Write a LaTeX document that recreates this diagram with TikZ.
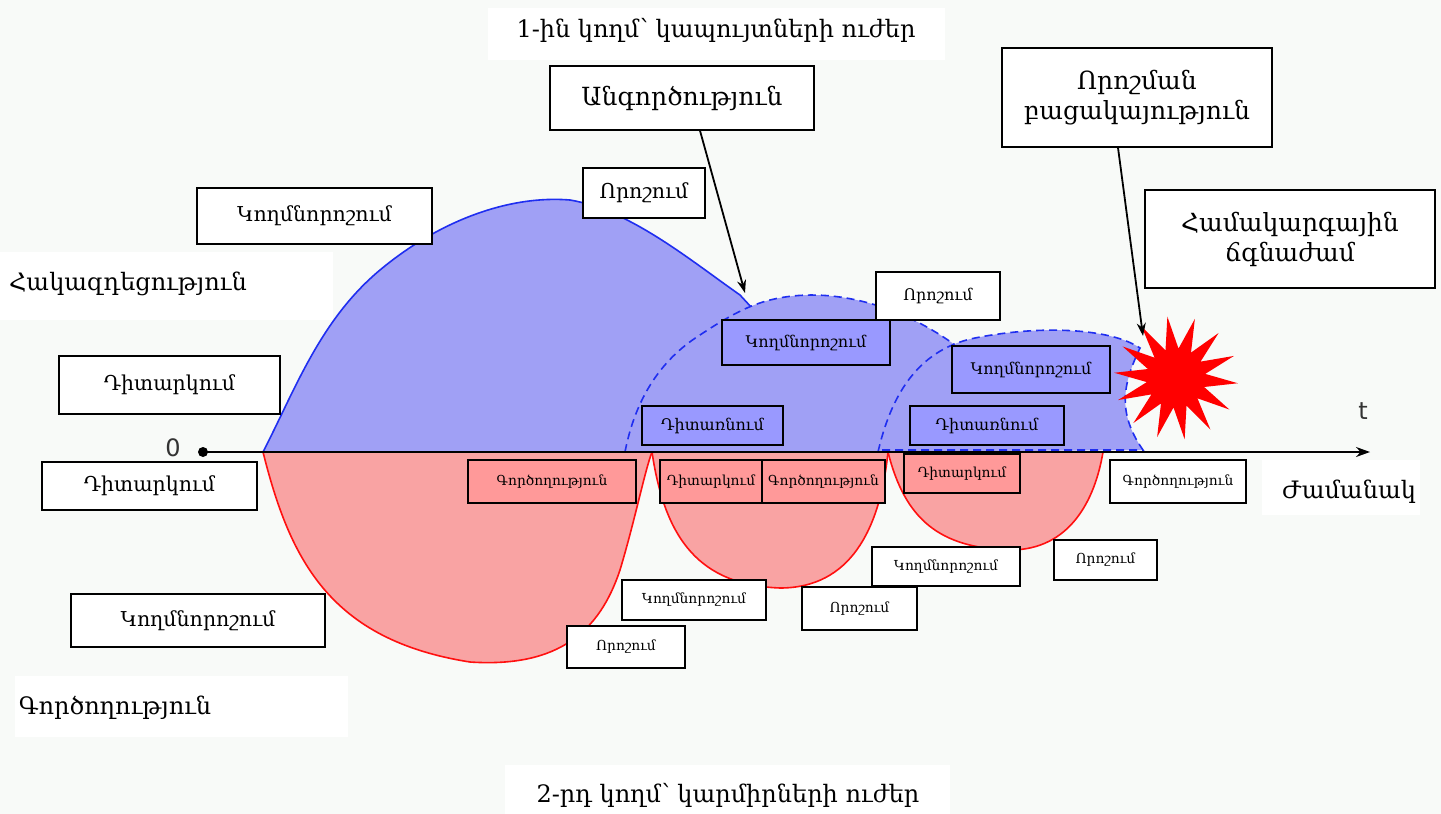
\documentclass[tikz,border=0pt]{standalone}
\usepackage{fontspec}
\setmainfont{DejaVu Serif}
\newfontfamily\sansf{DejaVu Sans}
\usetikzlibrary{arrows.meta,shapes.geometric}
\definecolor{bg}{HTML}{F8FAF8}
\definecolor{bluefill}{HTML}{A0A0F5}
\definecolor{bluebox}{HTML}{9999FF}
\definecolor{redfill}{HTML}{F9A3A3}
\definecolor{redbox}{HTML}{FF9999}
\definecolor{blueline}{HTML}{1F2EF0}
\definecolor{redline}{HTML}{FF1010}
\tikzset{
 box/.style={draw=black, line width=1.3pt, fill=white, inner sep=0pt, align=center},
 bbox/.style={box, fill=bluebox},
 rbox/.style={box, fill=redbox},
 freef/.style={font=\fontsize{24}{29}\selectfont},
 bigf/.style={font=\fontsize{25}{30}\selectfont},
 medf/.style={font=\fontsize{20.5}{24}\selectfont},
 smallf/.style={font=\fontsize{16}{19}\selectfont},
 tinyf/.style={font=\fontsize{13.8}{16}\selectfont},
 sz/.style 2 args={minimum width=#1, minimum height=#2},
 conn/.style={line width=1.8pt, -{Stealth[length=13pt,width=9pt]}},
}
\begin{document}
\begin{tikzpicture}[x=1pt,y=-1pt]
\fill[bg] (0,0) rectangle (1441,814);
\useasboundingbox (0,0) rectangle (1441,814);
% white patches behind labels
\fill[white] (488,8) rectangle (945,60);
\fill[white] (0,252) rectangle (333,320);
\fill[white] (15,676) rectangle (348,737);
\fill[white] (505,765) rectangle (950,814);
\fill[white] (1262,460) rectangle (1420,515);
% blue areas
\fill[bluefill] (263,452) .. controls (295,390) and (320,320) .. (380,270) .. controls (440,220) and (510,195) .. (570,200) .. controls (630,210) and (690,260) .. (740,295) -- (752,308) -- (700,335) -- (625,452) -- cycle;
\draw[blueline, line width=1.6pt] (263,452) .. controls (295,390) and (320,320) .. (380,270) .. controls (440,220) and (510,195) .. (570,200) .. controls (630,210) and (690,260) .. (740,295) -- (752,308);
\fill[bluefill] (625,452) .. controls (635,400) and (660,360) .. (700,335) .. controls (730,315) and (750,305) .. (770,300) .. controls (830,285) and (900,305) .. (955,345) -- (878,452) -- cycle;
\draw[blueline, line width=1.6pt, dash pattern=on 8pt off 5pt] (625,452) .. controls (635,400) and (660,360) .. (700,335) .. controls (730,315) and (750,305) .. (770,300) .. controls (830,285) and (900,305) .. (955,345);
\fill[bluefill] (878,452) .. controls (890,400) and (915,350) .. (975,338) .. controls (1040,325) and (1110,328) .. (1140,348) .. controls (1125,380) and (1115,410) .. (1143,450) -- cycle;
\draw[blueline, line width=1.6pt, dash pattern=on 8pt off 5pt] (878,452) .. controls (890,400) and (915,350) .. (975,338) .. controls (1040,325) and (1110,328) .. (1140,348) .. controls (1125,380) and (1115,410) .. (1143,450) -- (878,450);
% red areas
\fill[redfill] (263,452) .. controls (290,560) and (330,640) .. (470,662) .. controls (560,668) and (600,630) .. (620,570) .. controls (635,520) and (645,470) .. (652,452) -- cycle;
\draw[redline, line width=1.6pt] (263,452) .. controls (290,560) and (330,640) .. (470,662) .. controls (560,668) and (600,630) .. (620,570) .. controls (635,520) and (645,470) .. (652,452);
\fill[redfill] (652,452) .. controls (665,540) and (700,585) .. (780,588) .. controls (850,588) and (880,530) .. (888,452) -- cycle;
\draw[redline, line width=1.6pt] (652,452) .. controls (665,540) and (700,585) .. (780,588) .. controls (850,588) and (880,530) .. (888,452);
\fill[redfill] (888,452) .. controls (905,520) and (940,548) .. (1010,550) .. controls (1070,550) and (1095,500) .. (1103,452) -- cycle;
\draw[redline, line width=1.6pt] (888,452) .. controls (905,520) and (940,548) .. (1010,550) .. controls (1070,550) and (1095,500) .. (1103,452);
% axis
\coordinate (o) at (203,452);
\coordinate (tend) at (1370,452);
\draw[line width=1.5pt, -{Stealth[length=14pt,width=10pt]}] (o) -- (tend);
\fill (o) circle (5pt);
\node[font=\sansf\fontsize{24}{28}\selectfont, text=black!80] (zero) at (173,448) {0};
\node[font=\sansf\fontsize{24}{28}\selectfont, text=black!80] (tlab) at (1363,411) {t};
% star
\node[star, star points=14, star point ratio=2.1, fill=red, minimum size=124pt, inner sep=0pt, rotate=8] (crash) at (1176,378) {};
% free texts
\node[freef] (top) at (716,30) {1-ին կողմ՝ կապույտների ուժեր};
\node[freef] (bot) at (728,795) {2-րդ կողմ՝ կարմիրների ուժեր};
\node[freef] (hak) at (128,284) {Հակազդեցություն};
\node[freef] (gor) at (115,708) {Գործողություն};
\node[freef] (zham) at (1349,492) {Ժամանակ};
% big boxes
\node[box, bigf, sz={264pt}{64pt}] (ang) at (682,98) {Անգործություն};
\node[box, bigf, sz={270pt}{99pt}] (bac) at (1137,97.5) {Որոշման\\բացակայություն};
\node[box, bigf, sz={290pt}{98pt}] (cris) at (1290,239) {Համակարգային\\ճգնաժամ};
% blue side white boxes
\node[box, medf, sz={235pt}{56pt}] (b1k) at (314.5,216) {Կողմնորոշում};
\node[box, medf, sz={122pt}{50pt}] (b1o) at (644,193) {Որոշում};
\node[box, medf, sz={221pt}{58pt}] (b1d) at (169.5,385) {Դիտարկում};
\node[box, smallf, sz={124pt}{48pt}] (b2o) at (938,296) {Որոշում};
% blue boxes
\node[bbox, smallf, sz={168pt}{45pt}] (b2k) at (806,342.5) {Կողմնորոշում};
\node[bbox, smallf, sz={141pt}{39pt}] (b2d) at (712.5,425.5) {Դիտառնում};
\node[bbox, smallf, sz={158pt}{47pt}] (b3k) at (1031,369.5) {Կողմնորոշում};
\node[bbox, smallf, sz={154pt}{39pt}] (b3d) at (987,425.5) {Դիտառնում};
% red side white boxes
\node[box, medf, sz={215pt}{48pt}] (r1d) at (149.5,486) {Դիտարկում};
\node[box, medf, sz={254pt}{53pt}] (r1k) at (198,620.5) {Կողմնորոշում};
\node[box, tinyf, sz={118pt}{42pt}] (r1o) at (626,647) {Որոշում};
\node[box, tinyf, sz={144pt}{40pt}] (r2k) at (694,600) {Կողմնորոշում};
\node[box, tinyf, sz={115pt}{43pt}] (r2o) at (859.5,608.5) {Որոշում};
\node[box, tinyf, sz={148pt}{39pt}] (r3k) at (946,566.5) {Կողմնորոշում};
\node[box, tinyf, sz={103pt}{40pt}] (r3o) at (1105.5,560) {Որոշում};
\node[box, tinyf, sz={136pt}{43pt}] (r4g) at (1178,481.5) {Գործողություն};
% red boxes
\node[rbox, tinyf, sz={168pt}{43pt}] (r1g) at (552,481.5) {Գործողություն};
\node[rbox, tinyf, sz={102pt}{43pt}] (r2d) at (711,481.5) {Դիտարկում};
\node[rbox, tinyf, sz={123pt}{43pt}] (r2g) at (823.5,481.5) {Գործողություն};
\node[rbox, tinyf, sz={116pt}{39pt}] (r3d) at (962,473.5) {Դիտարկում};
% arrows
\coordinate (p1) at (745,293);
\coordinate (p2) at (1143,336);
\draw[conn] ([xshift=18pt]ang.south) -- (p1);
\draw[conn] ([xshift=-19pt]bac.south) -- (p2);
\end{tikzpicture}
\end{document}
